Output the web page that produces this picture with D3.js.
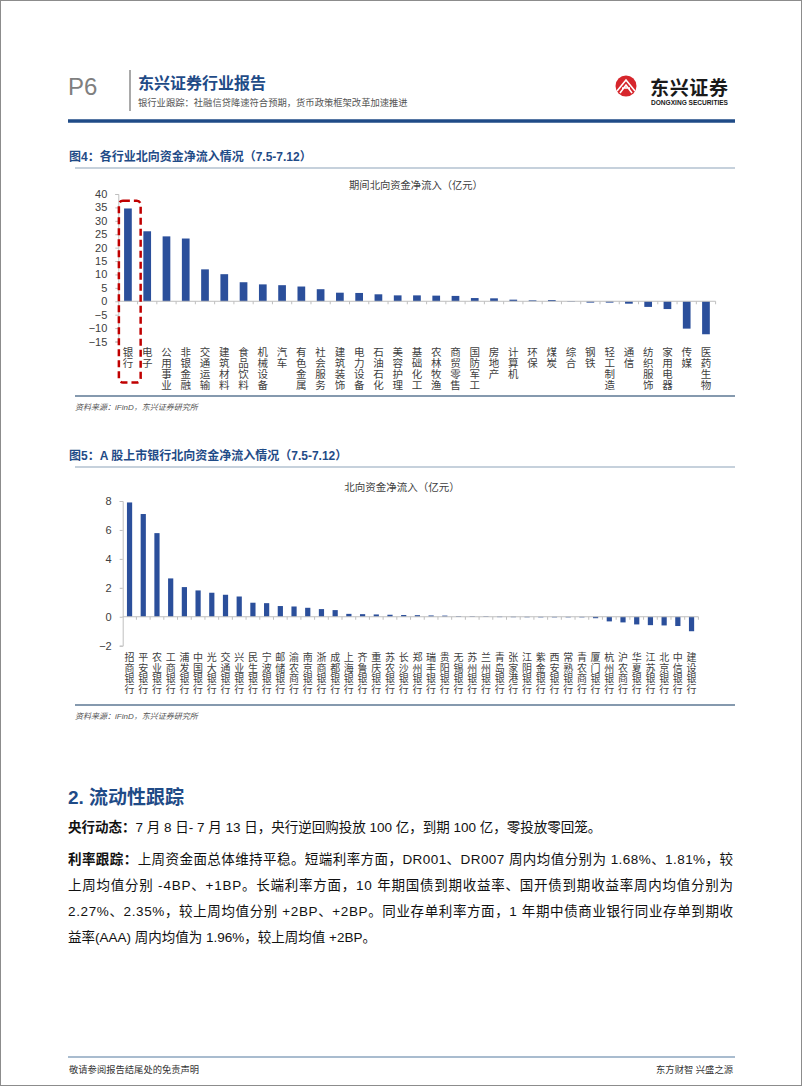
<!DOCTYPE html>
<html>
<head>
<meta charset="utf-8">
<script src="https://cdn.jsdelivr.net/npm/d3@7"></script>
<style>
html, body { margin: 0; padding: 0; background: #fff; }
svg { display: block; }
text { font-family: "Liberation Sans", "Noto Sans CJK SC", sans-serif; }
</style>
</head>
<body>
<svg id="page" width="802" height="1087"></svg>
<script>
/* 图4 各行业 (亿元) */
var industries = ["银行", "电子", "公用事业", "非银金融", "交通运输", "建筑材料", "食品饮料", "机械设备",
    "汽车", "有色金属", "社会服务", "建筑装饰", "电力设备", "石油石化", "美容护理", "基础化工",
    "农林牧渔", "商贸零售", "国防军工", "房地产", "计算机", "环保", "煤炭", "综合",
    "钢铁", "轻工制造", "通信", "纺织服饰", "家用电器", "传媒", "医药生物"];
var industryFlows = [34.6, 26.1, 24.2, 23.4, 11.9, 10.1, 7.1, 6.3,
    6.0, 5.5, 4.5, 3.2, 3.1, 2.6, 2.2, 2.2,
    2.1, 2.0, 1.2, 1.1, 0.6, 0.35, 0.45, 0.05,
    -0.5, -0.5, -0.9, -2.1, -2.9, -10.2, -12.3];
var industryTicks = [40, 35, 30, 25, 20, 15, 10, 5, 0, -5, -10, -15];

/* 图5 A股上市银行 (亿元) */
var banks = ["招商银行", "平安银行", "农业银行", "工商银行", "浦发银行", "中国银行", "光大银行", "交通银行",
    "兴业银行", "民生银行", "宁波银行", "邮储银行", "渝农商行", "南京银行", "浙商银行", "成都银行",
    "上海银行", "齐鲁银行", "重庆银行", "苏农银行", "长沙银行", "郑州银行", "瑞丰银行", "贵阳银行",
    "无锡银行", "苏州银行", "兰州银行", "青岛银行", "张家港行", "江阴银行", "紫金银行", "西安银行",
    "常熟银行", "青农商行", "厦门银行", "杭州银行", "沪农商行", "华夏银行", "江苏银行", "北京银行",
    "中信银行", "建设银行"];
var bankFlows = [7.9, 7.1, 5.78, 2.65, 2.05, 1.82, 1.66, 1.52,
    1.4, 0.97, 0.94, 0.74, 0.71, 0.62, 0.53, 0.46,
    0.2, 0.18, 0.16, 0.14, 0.12, 0.11, 0.09, 0.08,
    0.05, 0.04, 0.03, 0.015, 0.01, 0.005, 0, -0.01,
    -0.01, -0.02, -0.1, -0.32, -0.39, -0.53, -0.58, -0.6,
    -0.64, -1.0];
var bankTicks = [8, 6, 4, 2, 0, -2];

var BLUE = "#1f4b87";
var BAR = "#2b4f9b";
var svg = d3.select("#page");

/*** ***************************** *
 *** Page frame / header
 *** ***************************** */
svg.append("rect").attr("x", 0.5).attr("y", 0.5).attr("width", 801).attr("height", 1085)
    .attr("fill", "#fff").attr("stroke", "#8c8c8c").attr("stroke-width", 1);

svg.append("text").attr("x", 68).attr("y", 95).text("P6")
    .attr("font-size", 24).attr("fill", "#7f7f7f").attr("font-weight", 300);
svg.append("line").attr("x1", 130).attr("x2", 130).attr("y1", 70).attr("y2", 111)
    .attr("stroke", "#8c8c8c").attr("stroke-width", 1.5);
svg.append("text").attr("x", 138).attr("y", 89).text("东兴证券行业报告")
    .attr("font-size", 16).attr("font-weight", "bold").attr("fill", BLUE);
svg.append("text").attr("x", 138).attr("y", 106)
    .text("银行业跟踪：社融信贷降速符合预期，货币政策框架改革加速推进")
    .attr("font-size", 9.3).attr("fill", "#555");

// logo
var logo = svg.append("g");
logo.append("circle").attr("cx", 626).attr("cy", 86).attr("r", 10.5).attr("fill", "#d6262c");
logo.append("path").attr("d", "M617,91 L626,80 L635,91 M620,93 L626,85 L632,93 M622,88 L630,88")
    .attr("fill", "none").attr("stroke", "#fff").attr("stroke-width", 1.6);
logo.append("text").attr("x", 650).attr("y", 95).text("东兴证券")
    .attr("font-size", 19).attr("font-weight", "bold").attr("fill", "#1a1a1a")
    .attr("textLength", 78).attr("lengthAdjust", "spacing");
logo.append("text").attr("x", 651).attr("y", 105).text("DONGXING SECURITIES")
    .attr("font-size", 6.3).attr("font-weight", "bold").attr("fill", "#1a1a1a")
    .attr("textLength", 77).attr("lengthAdjust", "spacingAndGlyphs");

svg.append("line").attr("x1", 68).attr("x2", 735).attr("y1", 121).attr("y2", 121)
    .attr("stroke", BLUE).attr("stroke-width", 3.5);

/*** ***************************** *
 *** Figure titles / frames
 *** ***************************** */
function figTitle(y, str) {
    svg.append("text").attr("x", 69).attr("y", y).text(str)
        .attr("font-size", 12).attr("font-weight", "bold").attr("fill", BLUE);
    svg.append("line").attr("x1", 75).attr("x2", 735).attr("y1", y + 7).attr("y2", y + 7)
        .attr("stroke", "#b3c2d1").attr("stroke-width", 1.5);
}
function figSource(y) {
    svg.append("line").attr("x1", 75).attr("x2", 735).attr("y1", y - 14).attr("y2", y - 14)
        .attr("stroke", "#5d7793").attr("stroke-width", 1.5);
    svg.append("text").attr("x", 75).attr("y", y).text("资料来源：iFinD，东兴证券研究所")
        .attr("font-size", 8).attr("font-style", "italic").attr("fill", "#555");
}

/*** ***************************** *
 *** Bar chart
 *** ***************************** */
function drawBars(cfg) {
    var g = svg.append("g");

    var x = d3.scaleBand()
        .domain(cfg.cats)
        .range([cfg.x0, cfg.x1])
        .paddingInner(cfg.padIn)
        .paddingOuter(cfg.padIn / 2);
    var y = d3.scaleLinear()
        .domain(d3.extent(cfg.ticks))
        .range([cfg.yBottom, cfg.yTop]);

    // chart title
    g.append("text").attr("x", cfg.titleX).attr("y", cfg.titleY)
        .attr("text-anchor", "middle").attr("font-size", cfg.titleSize)
        .attr("fill", "#404040").text(cfg.title);

    // y axis
    var yAxis = g.append("g")
        .attr("transform", "translate(" + cfg.x0 + ",0)")
        .call(d3.axisLeft(y).tickValues(cfg.ticks).tickSize(3).tickPadding(8));
    yAxis.select(".domain").attr("stroke", "#bfbfbf");
    yAxis.selectAll(".tick line").attr("stroke", "#bfbfbf");
    yAxis.selectAll(".tick text")
        .attr("font-size", 11).attr("fill", "#404040")
        .attr("font-family", "Liberation Sans, sans-serif");

    // bars
    g.selectAll("rect.bar")
        .data(cfg.values)
        .enter()
        .append("rect")
        .attr("class", "bar")
        .attr("x", function (d, i) { return x(cfg.cats[i]); })
        .attr("width", x.bandwidth())
        .attr("y", function (d) { return y(Math.max(0, d)); })
        .attr("height", function (d) { return Math.max(0.6, Math.abs(y(d) - y(0))); })
        .attr("fill", BAR);

    // zero line + category ticks
    g.append("line")
        .attr("x1", cfg.x0).attr("x2", cfg.x1)
        .attr("y1", y(0)).attr("y2", y(0))
        .attr("stroke", "#bfbfbf").attr("stroke-width", 1);
    g.selectAll("line.cat-tick")
        .data(cfg.cats)
        .enter()
        .append("line")
        .attr("class", "cat-tick")
        .attr("x1", function (d) { return x(d) + x.bandwidth() + x.step() * cfg.padIn / 2; })
        .attr("x2", function (d) { return x(d) + x.bandwidth() + x.step() * cfg.padIn / 2; })
        .attr("y1", y(0)).attr("y2", y(0) + 3)
        .attr("stroke", "#bfbfbf");

    // vertical (stacked) category labels
    var labels = g.selectAll("text.cat")
        .data(cfg.cats)
        .enter()
        .append("text")
        .attr("class", "cat")
        .attr("text-anchor", "middle")
        .attr("font-size", cfg.labelSize)
        .attr("fill", "#404040");
    labels.each(function (d) {
        var cx = x(d) + x.bandwidth() / 2;
        var t = d3.select(this);
        d.split("").forEach(function (ch, k) {
            t.append("tspan")
                .attr("x", cx)
                .attr("y", cfg.labelTop + cfg.labelSize * 0.88 + k * cfg.labelStep)
                .text(ch);
        });
    });

    return { x: x, y: y, g: g };
}

/* --- 图4 --- */
figTitle(161, "图4：各行业北向资金净流入情况（7.5-7.12）");
var c1 = drawBars({
    cats: industries, values: industryFlows, ticks: industryTicks,
    x0: 118.3, x1: 715.6, yTop: 194, yBottom: 341.5, padIn: 0.6,
    title: "期间北向资金净流入（亿元）", titleX: 416, titleY: 189, titleSize: 10.3,
    labelTop: 347, labelSize: 10.5, labelStep: 10.8
});
// 銀行を囲む赤い点線
var bx = c1.x("银行");
c1.g.append("rect")
    .attr("x", bx - c1.x.step() * 0.27)
    .attr("y", c1.y(37.5))
    .attr("width", c1.x.step() * 1.13)
    .attr("height", 347 + 35.5 - c1.y(37.5))
    .attr("rx", 4)
    .attr("fill", "none")
    .attr("stroke", "#c00000")
    .attr("stroke-width", 2.5)
    .attr("stroke-dasharray", "7,4");
figSource(410);

/* --- 图5 --- */
figTitle(460, "图5：A 股上市银行北向资金净流入情况（7.5-7.12）");
drawBars({
    cats: banks, values: bankFlows, ticks: bankTicks,
    x0: 122.7, x1: 698.4, yTop: 501, yBottom: 645.7, padIn: 0.62,
    title: "北向资金净流入（亿元）", titleX: 402, titleY: 491, titleSize: 10.5,
    labelTop: 652.5, labelSize: 10, labelStep: 10.4
});
figSource(719);

/*** ***************************** *
 *** Body text
 *** ***************************** */
svg.append("text").attr("x", 68).attr("y", 804).text("2.  流动性跟踪")
    .attr("font-size", 19).attr("font-weight", "bold").attr("fill", BLUE);

function para(y, head, body, width) {
    var t = svg.append("text").attr("x", 68).attr("y", y)
        .attr("font-size", 13.5).attr("fill", "#111");
    if (head) t.append("tspan").attr("font-weight", "bold").text(head);
    t.append("tspan").text(body);
    if (width) t.attr("textLength", width).attr("lengthAdjust", "spacing");
}
para(832, "央行动态：", "7 月 8 日- 7 月 13 日，央行逆回购投放 100 亿，到期 100 亿，零投放零回笼。");
para(864, "利率跟踪：", "上周资金面总体维持平稳。短端利率方面，DR001、DR007 周内均值分别为 1.68%、1.81%，较", 665);
para(890, null, "上周均值分别 -4BP、+1BP。长端利率方面，10 年期国债到期收益率、国开债到期收益率周内均值分别为", 665);
para(916, null, "2.27%、2.35%，较上周均值分别 +2BP、+2BP。同业存单利率方面，1 年期中债商业银行同业存单到期收", 665);
para(942, null, "益率(AAA) 周内均值为 1.96%，较上周均值 +2BP。");

/*** ***************************** *
 *** Footer
 *** ***************************** */
svg.append("line").attr("x1", 68).attr("x2", 735).attr("y1", 1057).attr("y2", 1057)
    .attr("stroke", "#a9bccf").attr("stroke-width", 2);
svg.append("text").attr("x", 69).attr("y", 1073).text("敬请参阅报告结尾处的免责声明")
    .attr("font-size", 9.3).attr("fill", "#333");
svg.append("text").attr("x", 733).attr("y", 1073).attr("text-anchor", "end").text("东方财智 兴盛之源")
    .attr("font-size", 9.3).attr("fill", "#333");
</script>
</body>
</html>
